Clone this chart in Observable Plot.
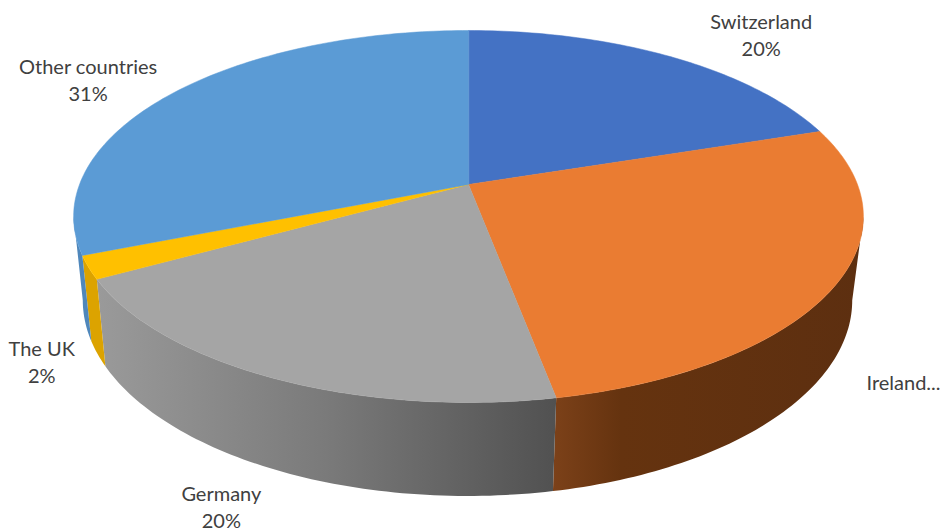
<!DOCTYPE html>
<html>
<head>
<meta charset="utf-8">
<script src="https://cdn.jsdelivr.net/npm/d3@7"></script>
<script src="https://cdn.jsdelivr.net/npm/@observablehq/plot@0.6"></script>
<style>
  html, body { margin: 0; padding: 0; background: #fff; }
  svg { display: block; }
</style>
</head>
<body>
<div id="chart"></div>
<script>
// Shares of the total, clockwise from twelve o'clock
const countries = ["Switzerland", "Ireland", "Germany", "The UK", "Other countries"];
const shares = [20, 27, 20, 2, 31];
const labelTexts = ["Switzerland\n20%", "Ireland...", "Germany\n20%", "The UK\n2%", "Other countries\n31%"];
const topColors = ["#4472C4", "#EA7C32", "#A5A5A5", "#FFC000", "#5B9BD5"];

const width = 942;
const height = 529;

// Perspective discs: the lid of the cylinder and its base
const lid = {cx: 468, cy: 184, a: 389, b: 180.5, k: 0.172};
const base = {cx: 467, cy: 266, a: 379, b: 190, k: 0.172};

const project = (disc, deg) => {
  const t = (deg * Math.PI) / 180;
  const u = Math.sin(t), v = Math.cos(t), w = 1 + disc.k * v;
  return [disc.cx + (disc.a * u) / w, disc.cy - (disc.b * v) / w];
};

// Evenly stepped angles between two bearings, both ends included
const sweep = (from, to) => {
  const n = Math.max(2, Math.ceil(Math.abs(to - from)));
  return d3.range(n + 1).map((i) => from + ((to - from) * i) / n);
};

// Cumulative slice bearings
const edges = [0, ...d3.cumsum(shares).map((s) => (s * 360) / d3.sum(shares))];

// Silhouette bearings, where each disc is widest on screen
const sideRight = (Math.acos(-lid.k) * 180) / Math.PI;
const sideLeft = 360 - sideRight;

const sectorRows = countries.flatMap((name, i) => [
  {slice: name, p: [lid.cx, lid.cy]},
  ...sweep(edges[i], edges[i + 1]).map((deg) => ({slice: name, p: project(lid, deg)}))
]);

// Side wall of one slice, clipped to the part facing the viewer
const wallRows = (i) => {
  const from = Math.max(edges[i], sideRight);
  const to = Math.min(edges[i + 1], sideLeft);
  if (to <= from) return [];
  const angles = sweep(from, to);
  return [
    ...angles.map((deg) => ({p: project(lid, deg)})),
    ...angles.slice().reverse().map((deg) => ({p: project(base, deg)}))
  ];
};

// Horizontal shading of the walls, lit from the left
const wallShades = [
  {id: "wall-1", stops: [[0, "#7c4119"], [0.22, "#65330f"], [1, "#5d2f10"]]},
  {id: "wall-2", stops: [[0, "#9a9a9a"], [0.5, "#7a7a7a"], [1, "#515151"]]},
  {id: "wall-3", stops: [[0, "#dca300"], [1, "#dca300"]]},
  {id: "wall-4", stops: [[0, "#4f87bb"], [1, "#4f87bb"]]}
];

const gradients = () => {
  const defs = d3.create("svg:defs");
  for (const shade of wallShades) {
    const g = defs.append("linearGradient").attr("id", shade.id);
    for (const [offset, color] of shade.stops) {
      g.append("stop").attr("offset", offset).attr("stop-color", color);
    }
  }
  return defs.node();
};

// Label anchors sit on the rim at each slice's middle bearing
const labelOffsets = [
  {dx: 92, dy: -22},
  {dx: 68, dy: 96},
  {dx: -51, dy: 128},
  {dx: -47, dy: 93},
  {dx: -87, dy: -13}
];
const labelMarks = countries.map((name, i) => {
  const mid = (edges[i] + edges[i + 1]) / 2;
  const p = project(lid, mid);
  return Plot.text([labelTexts[i]], {
    x: () => p[0],
    y: () => p[1],
    text: (d) => d,
    dx: labelOffsets[i].dx,
    dy: labelOffsets[i].dy,
    lineHeight: 1.35,
    fontFamily: "Lato, 'Open Sans', sans-serif",
    fontSize: 20,
    fill: "#404040"
  });
});

const plot = Plot.plot({
  width,
  height,
  margin: 0,
  style: {background: "#fff"},
  x: {domain: [0, width], range: [0, width], axis: null},
  y: {domain: [0, height], range: [0, height], axis: null},
  marks: [
    gradients,
    ...[1, 2, 3, 4].map((i) =>
      Plot.line(wallRows(i), {
        x: (d) => d.p[0],
        y: (d) => d.p[1],
        fill: `url(#wall-${i})`,
        stroke: "none",
        curve: "linear-closed"
      })
    ),
    ...countries.map((name, i) =>
      Plot.line(sectorRows.filter((d) => d.slice === name), {
        x: (d) => d.p[0],
        y: (d) => d.p[1],
        fill: topColors[i],
        stroke: topColors[i],
        strokeWidth: 0.5,
        curve: "linear-closed"
      })
    ),
    ...labelMarks
  ]
});

document.getElementById("chart").append(plot);
</script>
</body>
</html>
